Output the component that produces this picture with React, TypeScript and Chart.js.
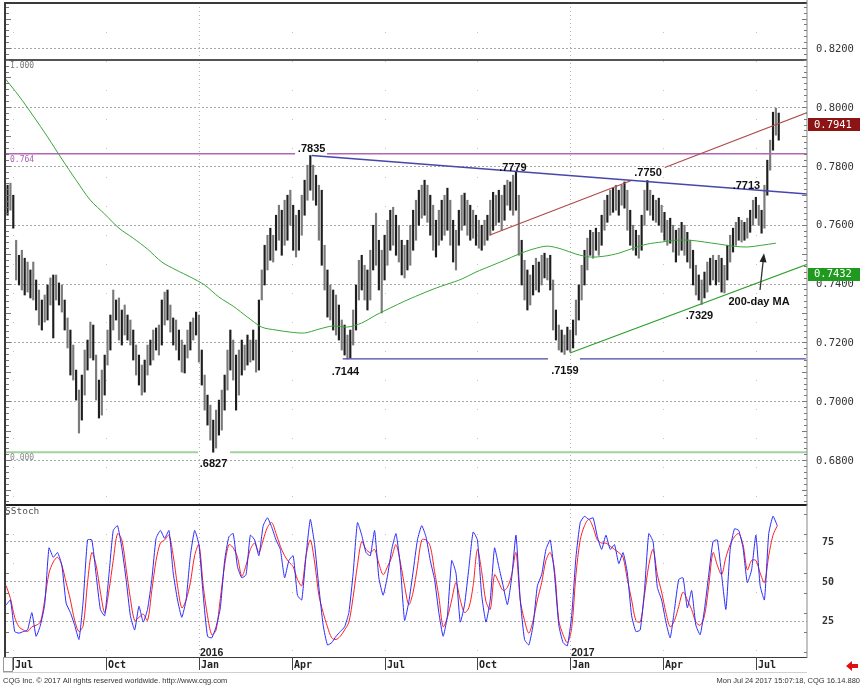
import React, { useEffect, useRef } from "react";
import { Chart, registerables } from "chart.js";

Chart.register(...registerables);

// ---------------- data ----------------
// x unit = trading-day index, 0 = 1 Jul 2015
const X_MIN = -5.1;
const X_MAX = 555.8;
const PRICE_MIN = 0.6651;
const PRICE_MAX = 0.8353;
const ST_MIN = 1.9;
const ST_MAX = 98.1;

// daily bars (sampled every 2 sessions)
const BAR_START = -4;
const BAR_STEP = 2;
const highs = [
  0.7734, 0.7741, 0.77, 0.7547, 0.7496, 0.7513, 0.7486, 0.7473, 0.7446, 0.7473,
  0.7412, 0.7378, 0.7344, 0.7361, 0.7395, 0.7419, 0.7429, 0.7429, 0.7402, 0.7395,
  0.7344, 0.7283, 0.7242, 0.7191, 0.7106, 0.7038, 0.7089, 0.7174, 0.7208, 0.7269,
  0.7259, 0.7157, 0.7072, 0.7106, 0.7157, 0.7242, 0.7293, 0.7378, 0.7344, 0.7351,
  0.731, 0.7327, 0.7293, 0.7276, 0.7242, 0.7191, 0.7157, 0.7123, 0.714, 0.7191,
  0.7208, 0.7242, 0.7249, 0.7259, 0.7344, 0.7371, 0.7378, 0.7327, 0.7283, 0.7276,
  0.7242, 0.7208, 0.7191, 0.7242, 0.7269, 0.7283, 0.7303, 0.7293, 0.7174, 0.7089,
  0.7021, 0.6987, 0.6936, 0.697, 0.7004, 0.7038, 0.7089, 0.7174, 0.7242, 0.7208,
  0.7157, 0.7174, 0.7208, 0.7191, 0.7225, 0.7208, 0.7242, 0.7208, 0.7344, 0.7446,
  0.753, 0.7564, 0.7588, 0.7564, 0.7632, 0.7666, 0.7649, 0.7683, 0.77, 0.7717,
  0.7666, 0.7632, 0.7649, 0.77, 0.7751, 0.7802, 0.7835, 0.7802, 0.7768, 0.7734,
  0.7717, 0.753, 0.7446, 0.7395, 0.7378, 0.7361, 0.7327, 0.7276, 0.7259, 0.7225,
  0.7242, 0.731, 0.7395, 0.7479, 0.7496, 0.7462, 0.7446, 0.7513, 0.7598, 0.7639,
  0.7547, 0.7513, 0.7564, 0.7615, 0.7649, 0.7659, 0.7632, 0.7598, 0.7547, 0.753,
  0.7547, 0.7598, 0.7649, 0.7683, 0.7717, 0.7734, 0.7751, 0.7734, 0.77, 0.7666,
  0.7615, 0.7649, 0.7683, 0.77, 0.7724, 0.7683, 0.7615, 0.7581, 0.7649, 0.77,
  0.7707, 0.7683, 0.7666, 0.7649, 0.7632, 0.7615, 0.7598, 0.7615, 0.7632, 0.7683,
  0.771, 0.77, 0.7717, 0.77, 0.7734, 0.7751, 0.7745, 0.7768, 0.7779, 0.77,
  0.7547, 0.7479, 0.7446, 0.7429, 0.7462, 0.7486, 0.7473, 0.7496, 0.7503, 0.7486,
  0.7496, 0.7412, 0.731, 0.7259, 0.7242, 0.7225, 0.7252, 0.7242, 0.7276, 0.7344,
  0.7395, 0.7462, 0.7513, 0.7554, 0.7581, 0.7574, 0.7588, 0.7574, 0.7632, 0.7683,
  0.77, 0.7717, 0.7724, 0.7734, 0.7717, 0.7734, 0.7745, 0.7717, 0.7649, 0.7598,
  0.7581, 0.7564, 0.7632, 0.7717, 0.775, 0.7717, 0.77, 0.7683, 0.769, 0.7666,
  0.7642, 0.7615, 0.7622, 0.7598, 0.7581, 0.7588, 0.7608, 0.7598, 0.7574, 0.7547,
  0.7513, 0.7462, 0.7429, 0.7412, 0.7439, 0.7473, 0.7486, 0.7496, 0.7479, 0.7496,
  0.7486, 0.7462, 0.753, 0.7564, 0.7588, 0.7608, 0.7625, 0.7615, 0.7608, 0.7622,
  0.7649, 0.7683, 0.7693, 0.7666, 0.7649, 0.7734, 0.7819, 0.7887, 0.7982, 0.7996, 0.7979,
];
const lows = [
  0.7632, 0.7649, 0.7588, 0.7412, 0.7395, 0.7378, 0.7361, 0.7371, 0.7351, 0.7344,
  0.731, 0.7259, 0.7242, 0.7269, 0.7276, 0.7327, 0.7215, 0.7344, 0.7327, 0.7303,
  0.7242, 0.7181, 0.7089, 0.7072, 0.7004, 0.6892, 0.6936, 0.7021, 0.7106, 0.7147,
  0.714, 0.7004, 0.6943, 0.6953, 0.7021, 0.7123, 0.7174, 0.7242, 0.7276, 0.7208,
  0.7191, 0.7225, 0.7208, 0.7191, 0.714, 0.7089, 0.7055, 0.7021, 0.7031, 0.7089,
  0.7123, 0.714, 0.7174, 0.7157, 0.7191, 0.7259, 0.7276, 0.7235, 0.7191, 0.7174,
  0.714, 0.7099, 0.7096, 0.7147, 0.7174, 0.7208, 0.7225, 0.7133, 0.7055, 0.697,
  0.6919, 0.6868, 0.6827, 0.6841, 0.6885, 0.6902, 0.697, 0.7038, 0.7106, 0.7072,
  0.697, 0.7021, 0.7089, 0.7106, 0.7123, 0.7133, 0.714, 0.7099, 0.7106, 0.7344,
  0.7395, 0.7446, 0.7479, 0.7473, 0.7513, 0.7547, 0.7496, 0.753, 0.7547, 0.7598,
  0.7513, 0.749, 0.7513, 0.7564, 0.7632, 0.7683, 0.7717, 0.7683, 0.7666, 0.7547,
  0.7462, 0.7378, 0.7286, 0.7276, 0.7242, 0.7225, 0.7208, 0.7174, 0.7157, 0.7144,
  0.7147, 0.7191, 0.7242, 0.7344, 0.7378, 0.7344, 0.731, 0.7344, 0.7446, 0.7462,
  0.7378, 0.73, 0.7412, 0.7462, 0.7513, 0.753, 0.7496, 0.7473, 0.7429, 0.7419,
  0.7446, 0.7462, 0.7513, 0.7547, 0.7598, 0.7622, 0.7632, 0.7608, 0.7564, 0.7513,
  0.749, 0.753, 0.7547, 0.7564, 0.7581, 0.753, 0.7473, 0.7446, 0.753, 0.7581,
  0.7598, 0.7564, 0.7547, 0.7554, 0.753, 0.752, 0.7513, 0.753, 0.7547, 0.7564,
  0.7581, 0.7598, 0.7608, 0.7581, 0.7615, 0.7666, 0.7649, 0.7632, 0.7649, 0.7496,
  0.7395, 0.7344, 0.731, 0.7327, 0.7361, 0.7378, 0.7371, 0.7395, 0.7419, 0.7412,
  0.7378, 0.7242, 0.7208, 0.7174, 0.7167, 0.7159, 0.7174, 0.7167, 0.7181, 0.7225,
  0.7276, 0.7344, 0.7395, 0.7446, 0.7496, 0.7486, 0.7513, 0.7496, 0.753, 0.7581,
  0.7608, 0.7632, 0.7642, 0.7649, 0.7632, 0.7666, 0.7656, 0.7581, 0.753, 0.7513,
  0.7496, 0.7486, 0.7513, 0.7598, 0.7649, 0.7632, 0.7615, 0.7608, 0.7598, 0.7574,
  0.7547, 0.753, 0.7537, 0.7507, 0.7473, 0.7496, 0.7513, 0.7496, 0.7473, 0.7452,
  0.7395, 0.7361, 0.7344, 0.7329, 0.7351, 0.7371, 0.7395, 0.7412, 0.7395, 0.7405,
  0.7371, 0.7368, 0.7412, 0.7473, 0.7507, 0.753, 0.7547, 0.7541, 0.7547, 0.7554,
  0.7574, 0.7598, 0.7622, 0.7598, 0.7571, 0.7588, 0.77, 0.7785, 0.7853, 0.7904, 0.7887,
];
const LAST_PRICE = 0.7941;
const TREND_PRICE = 0.7432;

// 200-day moving average (every 10 sessions)
const MA_START = -6;
const MA_STEP = 10;
const ma200 = [
  0.8098, 0.8037, 0.7969, 0.7898, 0.7823, 0.7751, 0.7683, 0.7636, 0.7588, 0.7554,
  0.7517, 0.7473, 0.7446, 0.7422, 0.7395, 0.7354, 0.7323, 0.7286, 0.7252, 0.7242,
  0.7235, 0.7232, 0.7245, 0.7256, 0.7252, 0.7266, 0.7293, 0.7317, 0.734, 0.7361,
  0.7381, 0.7398, 0.7415, 0.7439, 0.7459, 0.7479, 0.75, 0.7517, 0.7527, 0.7517,
  0.75, 0.749, 0.7493, 0.7503, 0.752, 0.7534, 0.7541, 0.7547, 0.7547, 0.7541,
  0.7534, 0.7527, 0.7524, 0.753, 0.7537,
];

// slow stochastic (every 3 sessions)
const ST_START = -5;
const ST_STEP = 3;
const stochK = [
  34.8, 38, 18, 17, 18, 19, 30, 15, 22, 35,
  71, 65, 68, 60, 36, 30, 22, 13, 38, 76,
  76, 54, 32, 28, 54, 82, 85, 71, 51, 28,
  19, 34, 24, 32, 51, 77, 82, 77, 82, 55,
  38, 27, 38, 66, 82, 73, 41, 15, 14, 21,
  33, 63, 78, 80, 59, 52, 54, 79, 76, 66,
  85, 90, 84, 76, 70, 52, 63, 66, 41, 38,
  66, 89, 73, 46, 22, 9.5, 11, 15, 18, 21,
  30, 55, 87, 79, 68, 66, 82, 52, 41, 53,
  70, 80, 60, 25, 37, 56, 76, 85, 78, 63,
  51, 30, 15, 28, 63, 55, 24, 35, 58, 81,
  76, 41, 24, 38, 71, 59, 47, 35, 52, 79,
  38, 13, 9.5, 22, 47, 54, 70, 76, 54, 22,
  11, 9, 28, 65, 87, 91, 89, 90, 78, 70,
  79, 70, 73, 61, 68, 55, 28, 18, 19, 44,
  80, 75, 46, 38, 24, 14, 32, 51, 52, 33,
  44, 22, 16, 32, 54, 75, 76, 54, 32, 70,
  83, 82, 71, 49, 57, 79, 47, 38, 80, 91, 85,
];
const stochD = [
  47, 39, 27, 21, 19, 18, 21, 22, 24, 38,
  55, 62, 65, 60, 49, 38, 25, 18, 22, 49,
  68, 60, 43, 30, 44, 63, 80, 76, 58, 39,
  25, 27, 29, 25, 44, 63, 74, 76, 79, 66,
  47, 33, 38, 49, 66, 73, 47, 28, 16, 19,
  39, 60, 73, 71, 65, 53, 60, 70, 74, 68,
  76, 84, 87, 80, 72, 66, 62, 59, 51, 47,
  66, 76, 62, 41, 30, 21, 14, 13, 15, 19,
  24, 40, 60, 75, 70, 68, 70, 61, 54, 59,
  65, 73, 62, 47, 35, 43, 59, 76, 76, 72,
  56, 40, 21, 27, 38, 49, 38, 30, 33, 47,
  70, 56, 37, 32, 54, 49, 44, 46, 54, 68,
  38, 25, 17, 25, 38, 49, 63, 68, 57, 25,
  16, 11, 20, 54, 76, 85, 89, 84, 76, 74,
  74, 72, 70, 68, 65, 51, 38, 25, 24, 41,
  60, 70, 54, 43, 30, 21, 25, 34, 43, 38,
  32, 24, 22, 28, 47, 68, 60, 54, 65, 73,
  78, 80, 73, 57, 63, 63, 55, 49, 66, 79, 85,
];

const priceTicks = [0.68, 0.7, 0.72, 0.74, 0.76, 0.78, 0.8, 0.82];
const stochTicks = [25, 50, 75];
const monthIdx = [0, 65, 130, 195, 260, 325, 390, 455, 520];
const monthLabels = ["Jul", "Oct", "Jan", "Apr", "Jul", "Oct", "Jan", "Apr", "Jul"];
const yearIdx = [130, 390];
const yearLabels = ["2016", "2017"];

// Fibonacci retracement levels
const fibValues = [0.8159, 0.7841, 0.6827];
const fibLabels = ["1.000", "0.764", "0.000"];
const fibColors = ["#777777", "#b060b0", "#8a8a8a"];

// trend lines (x = session index, y = price; null = gap)
const fibOneLine = [{ x: -6, y: 0.8159 }, { x: 556, y: 0.8159 }];
const fib764Line = [
  { x: -6, y: 0.7841 }, { x: 197.3, y: 0.7841 }, { x: 197.4, y: null },
  { x: 219.7, y: 0.7841 }, { x: 556, y: 0.7841 },
];
const fibZeroLine = [
  { x: -6, y: 0.6827 }, { x: 129.3, y: 0.6827 }, { x: 129.4, y: null },
  { x: 151.8, y: 0.6827 }, { x: 556, y: 0.6827 },
];
const blueDownLine = [{ x: 209, y: 0.7835 }, { x: 556.3, y: 0.7704 }];
const support7144 = [
  { x: 230.7, y: 0.7144 }, { x: 374.4, y: 0.7144 }, { x: 374.5, y: null },
  { x: 396.8, y: 0.7144 }, { x: 555, y: 0.7144 },
];
const redUpLine = [
  { x: 333.8, y: 0.7565 }, { x: 433.3, y: 0.7751 }, { x: 433.4, y: null },
  { x: 456.2, y: 0.7794 }, { x: 556.5, y: 0.7982 },
];
const greenUpLine = [{ x: 389.8, y: 0.7164 }, { x: 556.5, y: 0.7466 }];

const callouts = [
  { text: ".7835", x: 208.9, y: 0.7847 },
  { text: ".7779", x: 349.9, y: 0.7782 },
  { text: ".7750", x: 444.5, y: 0.7765 },
  { text: ".7713", x: 513.4, y: 0.7721 },
  { text: ".7144", x: 232.6, y: 0.7089 },
  { text: ".7159", x: 386.3, y: 0.7092 },
  { text: ".7329", x: 480.5, y: 0.7279 },
  { text: ".6827", x: 140.2, y: 0.6776 },
  { text: "200-day MA", x: 522.2, y: 0.7327 },
];
const maArrow = { from: { x: 522.9, y: 0.7378 }, to: { x: 525.7, y: 0.7503 } };

// ---------------- plugins ----------------
const MONO = '"DejaVu Sans Mono", monospace';
const SANS = '"Liberation Sans", Arial, sans-serif';

function drawVerticalGrid(ctx: any, xs: any, a: any) {
  monthIdx.forEach((m, i) => {
    const px = Math.round(xs.getPixelForValue(m)) + 0.5;
    const jan = monthLabels[i] === "Jan";
    ctx.strokeStyle = jan ? "#b4b4b4" : "#c4c4c4";
    ctx.setLineDash(jan ? [1, 3] : [1, 28]);
    ctx.beginPath();
    ctx.moveTo(px, a.top);
    ctx.lineTo(px, a.bottom);
    ctx.stroke();
  });
  ctx.setLineDash([]);
}

const pricePanel = {
  id: "pricePanel",
  beforeDatasetsDraw(chart: any) {
    const { ctx, chartArea: a, scales } = chart;
    const xs = scales.x;
    const ys = scales.y;
    ctx.save();
    ctx.lineWidth = 1;
    ctx.strokeStyle = "#a8a8a8";
    ctx.setLineDash([2, 2]);
    for (const v of priceTicks) {
      const py = Math.round(ys.getPixelForValue(v)) + 0.5;
      ctx.beginPath();
      ctx.moveTo(a.left, py);
      ctx.lineTo(a.right, py);
      ctx.stroke();
    }
    drawVerticalGrid(ctx, xs, a);
    ctx.restore();
  },
  afterDatasetsDraw(chart: any) {
    const { ctx, chartArea: a, scales } = chart;
    const xs = scales.x;
    const ys = scales.y;
    ctx.save();

    // fib labels
    ctx.font = `8px ${MONO}`;
    ctx.textBaseline = "top";
    ctx.textAlign = "left";
    fibValues.forEach((v, i) => {
      ctx.fillStyle = fibColors[i];
      ctx.fillText(fibLabels[i], a.left + 4, ys.getPixelForValue(v) + 2);
    });

    // callouts
    ctx.font = `bold 11px ${SANS}`;
    ctx.textAlign = "center";
    ctx.textBaseline = "alphabetic";
    ctx.fillStyle = "#111";
    for (const c of callouts) {
      ctx.fillText(c.text, xs.getPixelForValue(c.x), ys.getPixelForValue(c.y));
    }

    // arrow to the 200-day MA
    const fx = xs.getPixelForValue(maArrow.from.x);
    const fy = ys.getPixelForValue(maArrow.from.y);
    const tx = xs.getPixelForValue(maArrow.to.x);
    const ty = ys.getPixelForValue(maArrow.to.y);
    const ang = Math.atan2(ty - fy, tx - fx);
    ctx.strokeStyle = "#333";
    ctx.lineWidth = 1.3;
    ctx.beginPath();
    ctx.moveTo(fx, fy);
    ctx.lineTo(tx - Math.cos(ang) * 6, ty - Math.sin(ang) * 6);
    ctx.stroke();
    ctx.fillStyle = "#222";
    ctx.beginPath();
    ctx.moveTo(tx, ty);
    ctx.lineTo(tx - Math.cos(ang) * 9 + Math.sin(ang) * 3.5, ty - Math.sin(ang) * 9 - Math.cos(ang) * 3.5);
    ctx.lineTo(tx - Math.cos(ang) * 9 - Math.sin(ang) * 3.5, ty - Math.sin(ang) * 9 + Math.cos(ang) * 3.5);
    ctx.closePath();
    ctx.fill();

    // minor ticks on left and right edges
    ctx.strokeStyle = "#777";
    ctx.lineWidth = 1;
    for (let t = 333; t <= 418; t++) {
      const v = t * 0.002;
      if (v < PRICE_MIN || v > PRICE_MAX) continue;
      const py = Math.round(ys.getPixelForValue(v)) + 0.5;
      const len = t % 5 === 0 ? 5 : 3;
      ctx.beginPath();
      ctx.moveTo(a.left, py);
      ctx.lineTo(a.left + len, py);
      ctx.moveTo(a.right, py);
      ctx.lineTo(a.right - len, py);
      ctx.stroke();
    }

    // frame
    ctx.fillStyle = "#3a3a3a";
    ctx.fillRect(4, a.top - 1, a.right - 4, 2);
    ctx.fillRect(4, a.top - 1, 2, a.bottom - a.top + 2);
    ctx.fillStyle = "#888";
    ctx.fillRect(a.right - 0.5, 0, 1, a.bottom + 1);

    // right axis labels
    ctx.font = `10.5px ${MONO}`;
    ctx.textAlign = "left";
    ctx.textBaseline = "middle";
    ctx.fillStyle = "#333";
    for (const v of priceTicks) {
      ctx.fillText(v.toFixed(4), a.right + 9, ys.getPixelForValue(v) + 1);
    }

    // value boxes
    const box = (v: number, bg: string) => {
      const py = ys.getPixelForValue(v);
      ctx.fillStyle = bg;
      ctx.fillRect(a.right + 1, Math.round(py - 6.5), 52, 13);
      ctx.fillStyle = "#fff";
      ctx.fillText(v.toFixed(4), a.right + 7, py + 0.5);
    };
    box(LAST_PRICE, "#8c1414");
    box(TREND_PRICE, "#1f9a1f");

    ctx.restore();
  },
};

const stochPanel = {
  id: "stochPanel",
  beforeDatasetsDraw(chart: any) {
    const { ctx, chartArea: a, scales } = chart;
    const xs = scales.x;
    const ys = scales.y;
    ctx.save();
    ctx.lineWidth = 1;
    ctx.strokeStyle = "#a8a8a8";
    ctx.setLineDash([2, 2]);
    for (const v of stochTicks) {
      const py = Math.round(ys.getPixelForValue(v)) + 0.5;
      ctx.beginPath();
      ctx.moveTo(a.left, py);
      ctx.lineTo(a.right, py);
      ctx.stroke();
    }
    drawVerticalGrid(ctx, xs, a);
    ctx.restore();
  },
  afterDatasetsDraw(chart: any) {
    const { ctx, chartArea: a, scales } = chart;
    const xs = scales.x;
    const ys = scales.y;
    ctx.save();

    // minor ticks on edges
    ctx.strokeStyle = "#777";
    ctx.lineWidth = 1;
    for (let v = 5; v <= 95; v += 12.5) {
      const py = Math.round(ys.getPixelForValue(v)) + 0.5;
      ctx.beginPath();
      ctx.moveTo(a.left, py);
      ctx.lineTo(a.left + 3, py);
      ctx.moveTo(a.right, py);
      ctx.lineTo(a.right - 3, py);
      ctx.stroke();
    }

    // frame
    ctx.fillStyle = "#1e1e1e";
    ctx.fillRect(4, 0, a.right - 4, 2);
    ctx.fillStyle = "#3a3a3a";
    ctx.fillRect(4, 0, 2, a.bottom + 1);
    ctx.fillRect(4, a.bottom, a.right - 4, 1);
    ctx.fillStyle = "#888";
    ctx.fillRect(a.right - 0.5, 0, 1, a.bottom + 1);

    // panel title
    ctx.font = `9.5px ${MONO}`;
    ctx.textAlign = "left";
    ctx.textBaseline = "top";
    ctx.fillStyle = "#555";
    ctx.fillText("SStoch", 5, 3);

    // right labels
    ctx.font = `bold 10px ${MONO}`;
    ctx.textBaseline = "middle";
    ctx.fillStyle = "#333";
    for (const v of stochTicks) {
      ctx.fillText(String(v), a.right + 15, ys.getPixelForValue(v) + 1);
    }

    // x axis strip
    ctx.strokeStyle = "#444";
    ctx.lineWidth = 1;
    ctx.font = `bold 10px ${MONO}`;
    ctx.textBaseline = "alphabetic";
    ctx.fillStyle = "#222";
    monthIdx.forEach((m, i) => {
      const px = Math.round(xs.getPixelForValue(m)) + 0.5;
      ctx.beginPath();
      ctx.moveTo(px, a.bottom);
      ctx.lineTo(px, a.bottom + 13);
      ctx.stroke();
      ctx.fillText(monthLabels[i], px + 1.5, a.bottom + 11);
    });
    ctx.font = `bold 10.5px ${SANS}`;
    yearIdx.forEach((m, i) => {
      const px = xs.getPixelForValue(m);
      ctx.fillText(yearLabels[i], px + 1, a.bottom - 1);
    });
    ctx.strokeStyle = "#999";
    ctx.strokeRect(3.5, a.bottom + 0.5, 9, 14);
    ctx.strokeStyle = "#cfcfcf";
    ctx.beginPath();
    ctx.moveTo(3, a.bottom + 15.5);
    ctx.lineTo(a.right, a.bottom + 15.5);
    ctx.stroke();

    // footer
    ctx.font = `7.5px ${SANS}`;
    ctx.fillStyle = "#333";
    ctx.textAlign = "left";
    ctx.fillText("CQG Inc. \u00a9 2017 All rights reserved worldwide. http://www.cqg.com", 3, a.bottom + 26);
    ctx.textAlign = "right";
    ctx.fillText("Mon Jul 24 2017 15:07:18, CQG 16.14.880", 860, a.bottom + 26);

    // red arrow
    ctx.fillStyle = "#e01010";
    const ay = a.bottom + 9;
    ctx.beginPath();
    ctx.moveTo(846, ay);
    ctx.lineTo(852, ay - 5);
    ctx.lineTo(852, ay - 2);
    ctx.lineTo(858, ay - 2);
    ctx.lineTo(858, ay + 2);
    ctx.lineTo(852, ay + 2);
    ctx.lineTo(852, ay + 5);
    ctx.closePath();
    ctx.fill();

    ctx.restore();
  },
};

function lineDs(data: any[], color: string, width: number, tension = 0) {
  return {
    type: "line",
    data,
    borderColor: color,
    borderWidth: width,
    pointRadius: 0,
    spanGaps: false,
    tension,
  };
}

export default function App() {
  const topRef = useRef<HTMLCanvasElement>(null);
  const botRef = useRef<HTMLCanvasElement>(null);

  useEffect(() => {
    const bars = highs.map((h, i) => ({ x: BAR_START + i * BAR_STEP, y: [lows[i], h] }));
    const ma = ma200.map((v, i) => ({ x: MA_START + i * MA_STEP, y: v }));
    const kData = stochK.map((v, i) => ({ x: ST_START + i * ST_STEP, y: v }));
    const dData = stochD.map((v, i) => ({ x: ST_START + i * ST_STEP, y: v }));

    const common: any = {
      responsive: false,
      animation: false,
      devicePixelRatio: 1,
      events: [],
      plugins: { legend: { display: false }, tooltip: { enabled: false } },
    };

    const c1 = new Chart(topRef.current as HTMLCanvasElement, {
      type: "bar",
      data: {
        datasets: [
          lineDs(blueDownLine, "#4646ac", 1.5),
          lineDs(redUpLine, "#b04a4a", 1.2),
          lineDs(greenUpLine, "#2f9f2f", 1.2),
          lineDs(support7144, "#4646ac", 1.3),
          lineDs(ma, "#3aa53a", 1, 0.3),
          lineDs(fib764Line, "#b565b5", 1.5),
          lineDs(fibZeroLine, "#9fd49f", 2),
          lineDs(fibOneLine, "#555555", 2),
          {
            type: "bar",
            data: bars,
            backgroundColor: (c: any) => (c.dataIndex % 2 === 0 ? "#1e1e1e" : "#7a7a7a"),
            borderWidth: 0,
            barThickness: 1.5,
            grouped: false,
          },
        ] as any,
      },
      options: {
        ...common,
        layout: { padding: { left: 6, right: 56, top: 3, bottom: 1 } },
        scales: {
          x: { type: "linear", min: X_MIN, max: X_MAX, display: false, offset: false },
          y: { type: "linear", min: PRICE_MIN, max: PRICE_MAX, display: false },
        },
      },
      plugins: [pricePanel],
    } as any);

    const c2 = new Chart(botRef.current as HTMLCanvasElement, {
      type: "line",
      data: {
        datasets: [
          lineDs(kData, "#2a2aff", 1, 0.15),
          lineDs(dData, "#ff2020", 1, 0.3),
        ] as any,
      },
      options: {
        ...common,
        layout: { padding: { left: 6, right: 56, top: 1, bottom: 31 } },
        scales: {
          x: { type: "linear", min: X_MIN, max: X_MAX, display: false },
          y: { type: "linear", min: ST_MIN, max: ST_MAX, display: false },
        },
      },
      plugins: [stochPanel],
    } as any);

    return () => {
      c1.destroy();
      c2.destroy();
    };
  }, []);

  return (
    <div style={{ position: "absolute", left: 0, top: 0, width: 863, height: 688, background: "#fff" }}>
      <canvas ref={topRef} width={863} height={505} style={{ position: "absolute", left: 0, top: 0 }} />
      <canvas ref={botRef} width={863} height={184} style={{ position: "absolute", left: 0, top: 504 }} />
    </div>
  );
}
